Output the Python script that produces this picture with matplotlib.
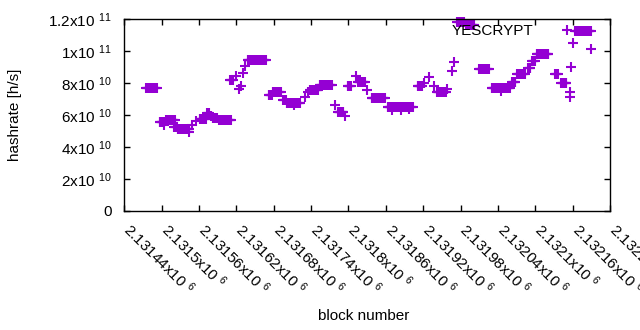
import numpy as np
import matplotlib
matplotlib.use("Agg")
import matplotlib.pyplot as plt
from matplotlib.ticker import FuncFormatter
from matplotlib.transforms import ScaledTranslation

# Runs of blocks with the same hashrate estimate (start block, end block, hashrate)
run_start = [2131475, 2131497, 2131504, 2131507, 2131520, 2131526, 2131544, 2131549,
             2131555, 2131561, 2131573, 2131579, 2131582, 2131592, 2131610, 2131619,
             2131624, 2131627, 2131630, 2131634, 2131638, 2131672, 2131678, 2131695,
             2131701, 2131712, 2131730, 2131735, 2131738, 2131754, 2131778, 2131783,
             2131794, 2131799, 2131812, 2131815, 2131829, 2131837, 2131863, 2131870,
             2131885, 2131898, 2131911, 2131922, 2131930, 2131937, 2131942, 2131959,
             2131966, 2131969, 2131975, 2131988, 2132010, 2132030, 2132045, 2132063,
             2132071, 2132089, 2132095, 2132102, 2132132, 2132142, 2132155, 2132155,
             2132158, 2132160, 2132164, 2132190]
run_end = [2131492, 2131503, 2131504, 2131521, 2131524, 2131544, 2131544, 2131549,
           2131555, 2131571, 2131576, 2131579, 2131589, 2131611, 2131614, 2131619,
           2131624, 2131627, 2131630, 2131634, 2131667, 2131677, 2131691, 2131699,
           2131722, 2131712, 2131730, 2131735, 2131751, 2131773, 2131778, 2131792,
           2131794, 2131804, 2131812, 2131826, 2131829, 2131858, 2131903, 2131870,
           2131885, 2131898, 2131918, 2131922, 2131930, 2131937, 2131956, 2131959,
           2131966, 2131969, 2131985, 2132002, 2132025, 2132059, 2132045, 2132068,
           2132083, 2132092, 2132099, 2132121, 2132136, 2132150, 2132155, 2132155,
           2132158, 2132160, 2132189, 2132190]
run_rate = [7.69e10, 5.56e10, 5.40e10, 5.69e10, 5.25e10, 5.13e10, 4.94e10, 5.38e10,
            5.63e10, 5.75e10, 6.13e10, 5.94e10, 5.81e10, 5.69e10, 8.19e10, 8.44e10,
            7.63e10, 7.81e10, 8.63e10, 9.06e10, 9.44e10, 7.25e10, 7.44e10, 6.94e10,
            6.75e10, 6.60e10, 7.13e10, 7.44e10, 7.56e10, 7.88e10, 6.63e10, 6.19e10,
            5.94e10, 7.81e10, 8.44e10, 8.06e10, 7.56e10, 7.06e10, 6.50e10, 6.30e10,
            6.30e10, 6.35e10, 7.81e10, 8.00e10, 8.38e10, 7.81e10, 7.44e10, 7.63e10,
            8.75e10, 9.31e10, 1.181e11, 1.163e11, 8.88e10, 7.69e10, 7.50e10, 8.06e10,
            8.56e10, 8.94e10, 9.38e10, 9.81e10, 8.56e10, 8.00e10, 7.44e10, 7.13e10,
            9.00e10, 1.05e11, 1.125e11, 1.013e11]

x_ticks = np.arange(2131440, 2132221, 60)
y_ticks = [0, 2e10, 4e10, 6e10, 8e10, 1e11, 1.2e11]

# one point per block inside each run
blocks = np.concatenate([np.arange(s, e + 1) for s, e in zip(run_start, run_end)])
rates = np.concatenate([np.full(e - s + 1, r) for s, e, r in zip(run_start, run_end, run_rate)])

plt.rcParams['font.family'] = ['Liberation Sans', 'DejaVu Sans']
plt.rcParams['font.size'] = 11
plt.rcParams['mathtext.fontset'] = 'custom'
plt.rcParams['mathtext.rm'] = 'Liberation Sans'
plt.rcParams['mathtext.it'] = 'Liberation Sans'
plt.rcParams['mathtext.bf'] = 'Liberation Sans'

fig = plt.figure(figsize=(6.4, 3.3), dpi=100)
ax = fig.add_axes([124.3 / 640, (330 - 211) / 330, (610 - 124.3) / 640, 192 / 330])

ax.plot(blocks, rates, '+', color='#9400d3', ms=7, mew=1.5, clip_on=False, label='YESCRYPT')

ax.set_xlim(2131440, 2132220)
ax.set_ylim(0, 1.2e11)
ax.set_xticks(x_ticks)
ax.set_yticks(y_ticks)


def sci(v, pos):
    if v == 0:
        return '0'
    exp = int(np.floor(np.log10(abs(v)) + 1e-9))
    mant = v / 10 ** exp
    return '%gx10 $^{%d}$' % (round(mant, 6), exp)


ax.xaxis.set_major_formatter(FuncFormatter(sci))
ax.yaxis.set_major_formatter(FuncFormatter(sci))

ax.tick_params(direction='in', length=4.5, width=1, top=True, right=True)
ax.tick_params(axis='y', pad=9)
ax.tick_params(axis='x', pad=14)
shift = ScaledTranslation(-2 / 100, 0, fig.dpi_scale_trans)
for lab in ax.get_xticklabels():
    lab.set_rotation(-45)
    lab.set_ha('left')
    lab.set_va('baseline')
    lab.set_rotation_mode('anchor')
    lab.set_transform(lab.get_transform() + shift)
for s in ax.spines.values():
    s.set_linewidth(1)

ax.set_ylabel('hashrate [h/s]')
ax.yaxis.set_label_coords(15 / 640, 1 - 115 / 330, transform=fig.transFigure)
ax.set_xlabel('block number')
ax.xaxis.set_label_coords(364 / 640, 1 - 316 / 330, transform=fig.transFigure)
ax.xaxis.label.set_va('center')
ax.yaxis.label.set_va('center')

ax.legend(loc='center right', bbox_to_anchor=((582 - 124.3) / 485.7, (211 - 31) / 192),
          frameon=False, markerfirst=False, handlelength=2, handletextpad=1.2,
          borderpad=0, borderaxespad=0)

fig.savefig('out.png', dpi=100)
